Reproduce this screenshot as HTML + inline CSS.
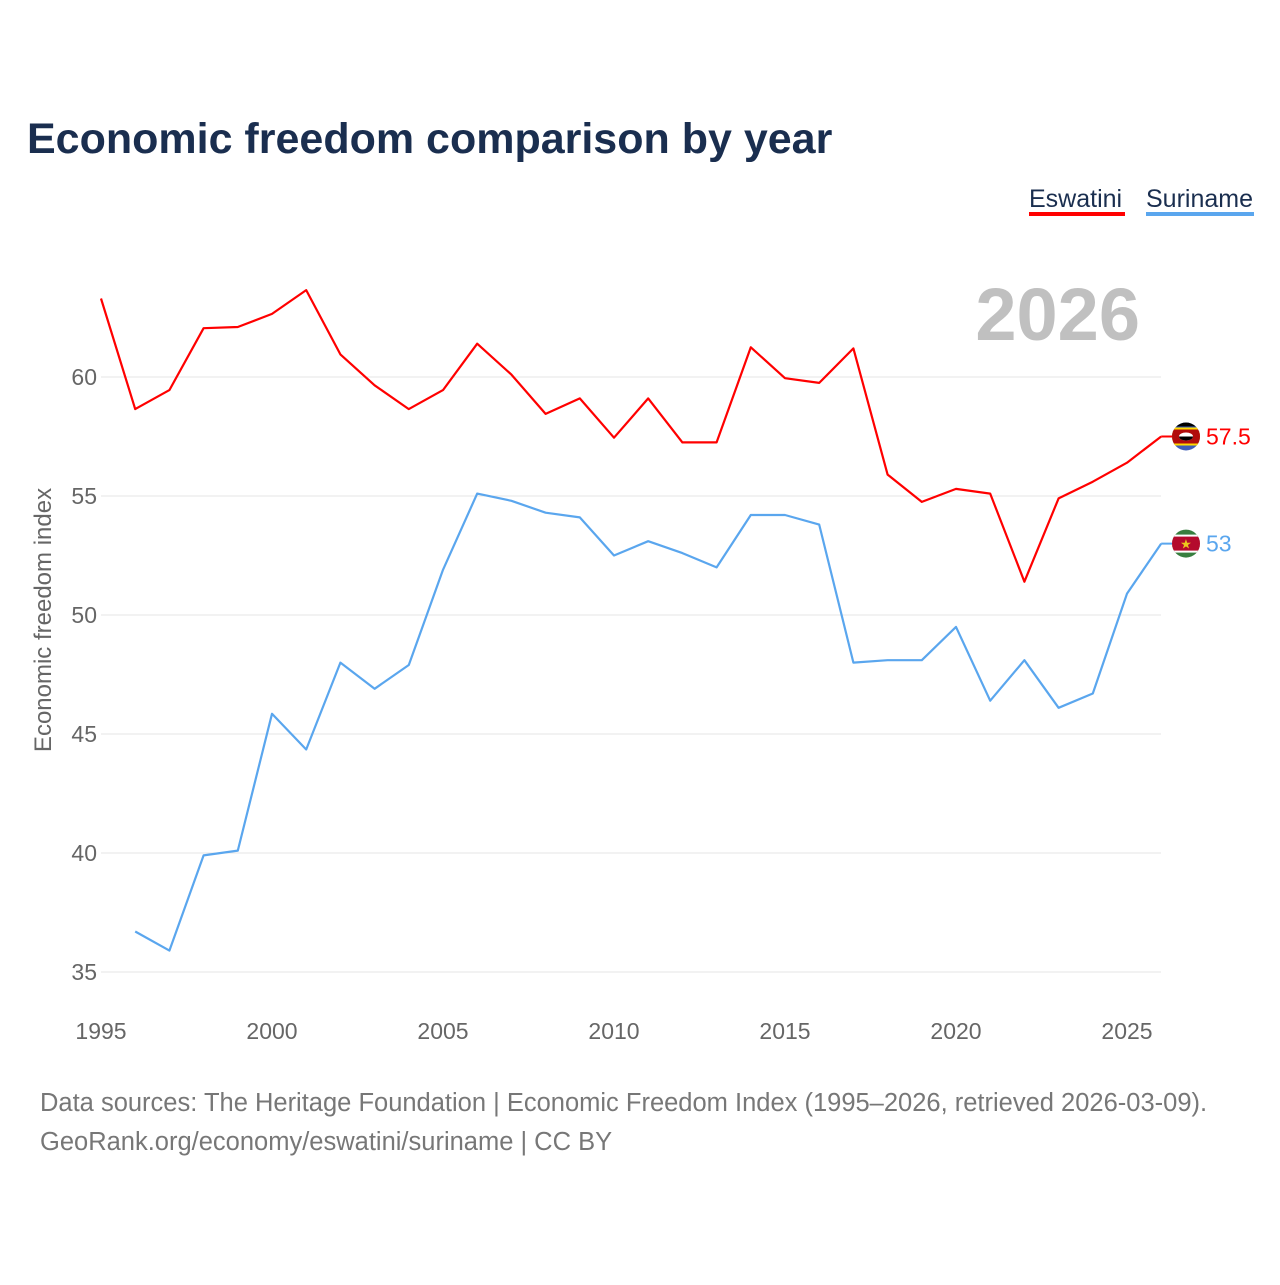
<!DOCTYPE html>
<html><head><meta charset="utf-8">
<style>
html,body{margin:0;padding:0;background:#fff;}
body{width:1280px;height:1280px;overflow:hidden;font-family:"Liberation Sans",sans-serif;}
</style></head>
<body>
<svg id="chart" width="1280" height="1280" xmlns="http://www.w3.org/2000/svg" font-family="Liberation Sans, sans-serif">
<text x="27" y="153" font-size="43" font-weight="bold" fill="#1a2e4f">Economic freedom comparison by year</text>
<g>
<text x="1029" y="207" font-size="25" fill="#1a2e4f">Eswatini</text>
<rect x="1029" y="212" width="96" height="4" fill="#ff0000"/>
<text x="1146" y="207" font-size="25" fill="#1a2e4f">Suriname</text>
<rect x="1146" y="212" width="108" height="4" fill="#5aa6ee"/>
</g>
<text x="1140" y="340" font-size="74" font-weight="bold" fill="#c0c0c0" text-anchor="end">2026</text>
<g id="grid"></g>
<g id="yticks"></g>
<g id="xticks"></g>
<text transform="translate(51,620) rotate(-90)" font-size="24" fill="#666" text-anchor="middle">Economic freedom index</text>
<g id="series"></g>
<text x="40" y="1111" font-size="25.5" fill="#777">Data sources: The Heritage Foundation | Economic Freedom Index (1995–2026, retrieved 2026-03-09).</text>
<text x="40" y="1150" font-size="25.5" fill="#777">GeoRank.org/economy/eswatini/suriname | CC BY</text>
</svg>
<script>
const years = [1995,1996,1997,1998,1999,2000,2001,2002,2003,2004,2005,2006,2007,2008,2009,2010,2011,2012,2013,2014,2015,2016,2017,2018,2019,2020,2021,2022,2023,2024,2025,2026];
const eswatini = [63.3,58.65,59.45,62.05,62.1,62.65,63.65,60.95,59.65,58.65,59.45,61.4,60.1,58.45,59.1,57.45,59.1,57.25,57.25,61.25,59.95,59.75,61.2,55.9,54.75,55.3,55.1,51.4,54.9,55.6,56.4,57.5];
const suriname = [null,36.7,35.9,39.9,40.1,45.85,44.35,48.0,46.9,47.9,51.9,55.1,54.8,54.3,54.1,52.5,53.1,52.6,52.0,54.2,54.2,53.8,48.0,48.1,48.1,49.5,46.4,48.1,46.1,46.7,50.9,53.0];
const yTicks = [35,40,45,50,55,60];
const xTicks = [1995,2000,2005,2010,2015,2020,2025];
const NS="http://www.w3.org/2000/svg";
function X(yr){return 101+(yr-1995)*34.2;}
function Y(v){return 377+(60-v)*23.8;}
function mk(tag,attrs,parent){const e=document.createElementNS(NS,tag);for(const k in attrs)e.setAttribute(k,attrs[k]);parent.appendChild(e);return e;}
const grid=document.getElementById('grid'),yt=document.getElementById('yticks'),xt=document.getElementById('xticks'),ser=document.getElementById('series');
yTicks.forEach(v=>{
  const l=mk('line',{x1:101,x2:1161,y1:Y(v),y2:Y(v),stroke:'#e6e6e6','stroke-width':1},grid);
  
  
  const t=mk('text',{x:97,y:Y(v)+8,'font-size':23,fill:'#666','text-anchor':'end'},yt);
  t.textContent=v;
  
  
});
xTicks.forEach(v=>{
  const t=mk('text',{x:X(v),y:1039,'font-size':23,fill:'#666','text-anchor':'middle'},xt);
  t.textContent=v;
  
  
});
function drawLine(vals,color,name){
  let d='';vals.forEach((v,i)=>{if(v==null)return;d+=(d?'L':'M')+X(years[i]).toFixed(1)+','+Y(v).toFixed(1);});
  const p=mk('path',{d:d,fill:'none',stroke:color,'stroke-width':2.2,'stroke-linejoin':'round'},ser);
  
  
  const last=vals[vals.length-1],ly=Y(last);
  mk('line',{x1:X(2026),x2:1186,y1:ly,y2:ly,stroke:color,'stroke-width':2},ser);
  const g=mk('g',{},ser);
  
  
  mk('clipPath',{id:'c'+name},g);
  const cp=g.lastChild;mk('circle',{cx:1186,cy:ly,r:14},cp);
  const fg=mk('g',{'clip-path':'url(#c'+name+')'},g);
  if(name==='eswatini'){
    mk('rect',{x:1170,y:ly-15,width:32,height:30,fill:'#3e5eb9'},fg);
    mk('rect',{x:1170,y:ly-9,width:32,height:18,fill:'#ffd900'},fg);
    mk('rect',{x:1170,y:ly-7,width:32,height:14,fill:'#b10c0c'},fg);
    mk('ellipse',{cx:1186,cy:ly,rx:7,ry:4,fill:'#fff'},fg);
    mk('path',{d:`M1179,${ly} A7,4 0 0 0 1193,${ly}Z`,fill:'#000'},fg);
    mk('rect',{x:1170,y:ly-15,width:32,height:5,fill:'#000'},fg);
  } else {
    mk('rect',{x:1170,y:ly-15,width:32,height:30,fill:'#377e3f'},fg);
    mk('rect',{x:1170,y:ly-9,width:32,height:18,fill:'#fff'},fg);
    mk('rect',{x:1170,y:ly-7,width:32,height:14,fill:'#b40a2d'},fg);
    mk('text',{x:1186,y:ly+5,'font-size':13,fill:'#ecc81d','text-anchor':'middle'},fg).textContent='★';
  }
  const t=mk('text',{x:1206,y:ly+8,'font-size':23,fill:color},ser);
  t.textContent=last;
  
  
}
drawLine(eswatini,'#ff0000','eswatini');
drawLine(suriname,'#5aa6ee','suriname');
</script>
</body></html>
